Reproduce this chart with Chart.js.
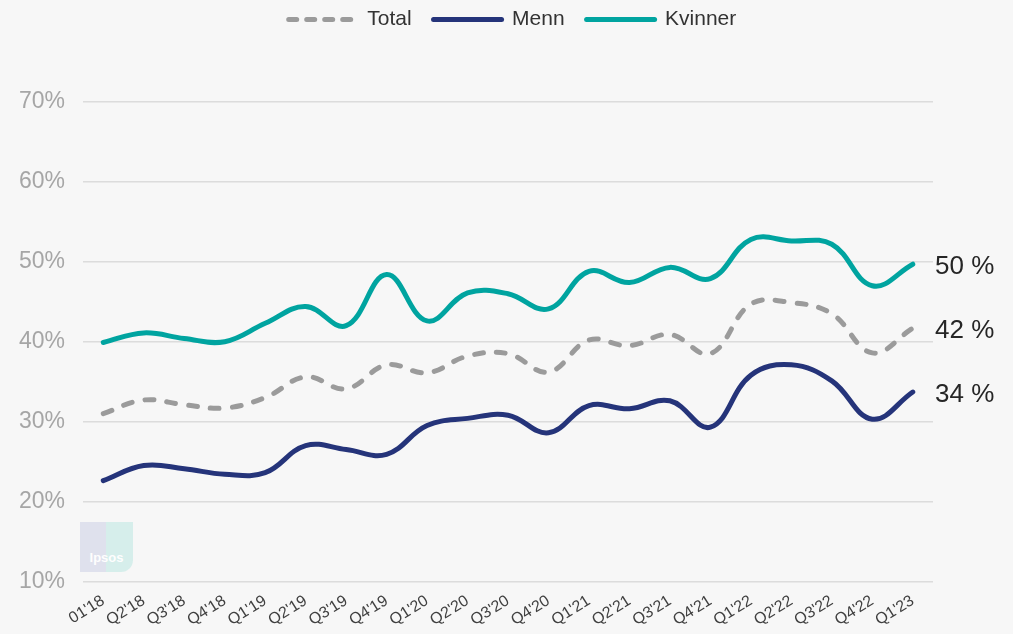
<!DOCTYPE html>
<html>
<head>
<meta charset="utf-8">
<script src="https://cdn.jsdelivr.net/npm/chart.js@4.4.0/dist/chart.umd.min.js"></script>
<style>
  html, body { margin: 0; padding: 0; background: #f7f7f7; }
  #wrap { position: relative; width: 1013px; height: 634px; }
  #logo { position: absolute; left: 80px; top: 522px; width: 53px; height: 50px;
          background: linear-gradient(90deg, #d9dbea 0 50%, #cdece8 50% 100%);
          border-radius: 0 0 12px 0; opacity: 0.8;
          font: bold 13px "Liberation Sans", Arial, sans-serif; color: #fff;
          text-align: center; line-height: 72px; }
</style>
</head>
<body>
<div id="wrap">
  <canvas id="chart" width="1013" height="634"></canvas>
  <div id="logo">Ipsos</div>
</div>
<script>
// kvartaler
const labels = ["01'18","Q2'18","Q3'18","Q4'18","Q1'19","Q2'19","Q3'19","Q4'19","Q1'20","Q2'20","Q3'20",
                "Q4'20","Q1'21","Q2'21","Q3'21","Q4'21","Q1'22","Q2'22","Q3'22","Q4'22","Q1'23"];

const total   = [31.0, 32.7, 32.1, 31.7, 33.0, 35.6, 34.1, 37.1, 36.1, 38.2, 38.5,
                 36.2, 40.2, 39.5, 40.9, 38.5, 44.7, 44.9, 43.5, 38.6, 41.7];
const menn    = [22.6, 24.5, 24.1, 23.4, 23.6, 27.0, 26.5, 25.9, 29.5, 30.4, 30.8,
                 28.6, 32.0, 31.6, 32.6, 29.3, 35.8, 37.1, 35.1, 30.3, 33.7];
const kvinner = [39.9, 41.1, 40.4, 40.0, 42.3, 44.4, 42.0, 48.4, 42.6, 46.1, 46.0,
                 44.1, 48.8, 47.4, 49.3, 47.9, 52.8, 52.6, 52.2, 47.0, 49.7];

const yTicks = [10, 20, 30, 40, 50, 60, 70];

const FONT = '"Liberation Sans", Arial, sans-serif';

// legenden over hele bredden, plottet skyves ned
const legendSpace = {
  id: 'legendSpace',
  beforeInit(chart) {
    const fit = chart.legend.fit;
    chart.legend.fit = function () {
      fit.bind(chart.legend)();
      this.height += 49;
    };
  },
  afterLayout(chart) {
    const lg = chart.legend;
    lg.left = 6;
    lg.right = chart.width + 6;
    lg.width = chart.width;
    lg.top = -13;
  }
};

// siste verdi til høyre for linjene
const endLabels = {
  id: 'endLabels',
  afterDatasetsDraw(chart) {
    const ctx = chart.ctx;
    const y = chart.scales.y;
    ctx.save();
    ctx.font = '26px ' + FONT;
    ctx.fillStyle = '#262626';
    ctx.textBaseline = 'middle';
    ctx.textAlign = 'left';
    chart.data.datasets.forEach(ds => {
      const v = ds.data[ds.data.length - 1];
      ctx.fillText(Math.round(v) + ' %', chart.chartArea.right + 2, y.getPixelForValue(v) + 3);
    });
    ctx.restore();
  }
};

new Chart(document.getElementById('chart'), {
  type: 'line',
  data: {
    labels: labels,
    datasets: [
      { label: 'Total', data: total, borderColor: '#9b9b9b', backgroundColor: '#9b9b9b',
        borderWidth: 5, borderDash: [9, 13], borderCapStyle: 'round', tension: 0.4, pointRadius: 0 },
      { label: 'Menn', data: menn, borderColor: '#25347a', backgroundColor: '#25347a',
        borderWidth: 5, borderCapStyle: 'round', tension: 0.4, pointRadius: 0 },
      { label: 'Kvinner', data: kvinner, borderColor: '#00a4a0', backgroundColor: '#00a4a0',
        borderWidth: 5, borderCapStyle: 'round', tension: 0.4, pointRadius: 0 }
    ]
  },
  options: {
    responsive: false,
    animation: false,
    layout: { padding: { left: 1, right: 80, top: 0, bottom: 2 } },
    plugins: {
      legend: {
        position: 'top',
        labels: {
          usePointStyle: true,
          pointStyleWidth: 68,
          boxHeight: 4,
          padding: 22,
          color: '#333333',
          font: { family: FONT, size: 21 },
          generateLabels: chart => chart.data.datasets.map((ds, i) => ({
            text: ds.label,
            datasetIndex: i,
            pointStyle: 'line',
            strokeStyle: ds.borderColor,
            fillStyle: ds.borderColor,
            fontColor: '#333333',
            lineWidth: 5,
            lineCap: 'round',
            lineDash: ds.borderDash ? [8, 10] : [],
            hidden: false
          }))
        }
      },
      tooltip: { enabled: false }
    },
    scales: {
      x: {
        offset: true,
        grid: { display: false },
        border: { display: false },
        ticks: {
          autoSkip: false,
          minRotation: 32, maxRotation: 32,
          color: '#404040',
          font: { family: FONT, size: 16 },
          padding: 2
        }
      },
      y: {
        min: 10, max: 70,
        afterBuildTicks: axis => { axis.ticks = yTicks.map(v => ({ value: v })); },
        grid: { color: '#dcdcdc', lineWidth: 1.5, drawTicks: false },
        border: { display: false },
        ticks: {
          color: '#a6a6a6',
          padding: 18,
          font: { family: FONT, size: 23 },
          callback: v => v + '%'
        }
      }
    }
  },
  plugins: [legendSpace, endLabels]
});
</script>
</body>
</html>
